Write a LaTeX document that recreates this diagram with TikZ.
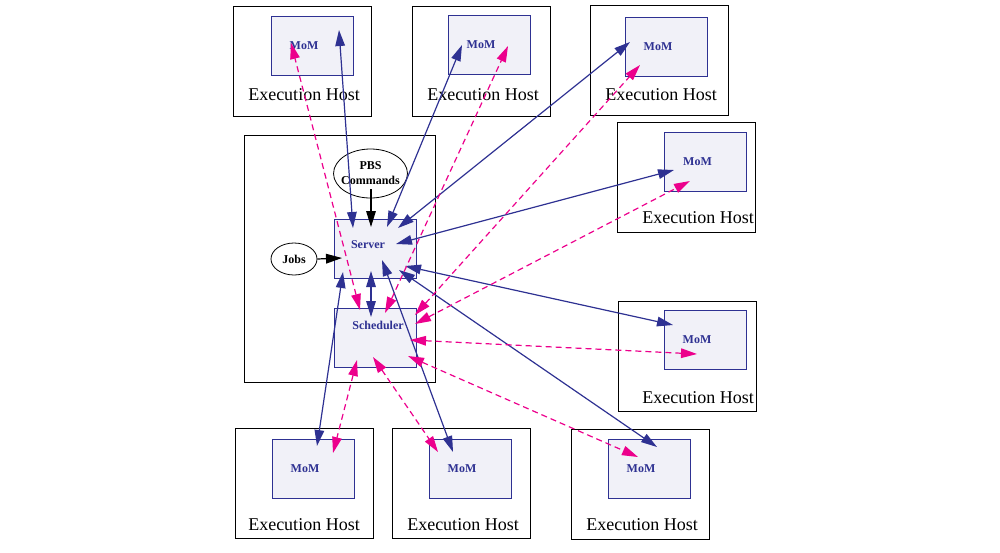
\documentclass[tikz,border=0pt]{standalone}
\usepackage{fontspec}
\setmainfont{Liberation Serif}
\usetikzlibrary{arrows.meta,shapes.geometric,calc}
\definecolor{pbsblue}{HTML}{2E3192}
\definecolor{pbspink}{HTML}{EC008C}
\definecolor{pbsfill}{HTML}{F1F1F8}
\tikzset{
  host/.style={draw=black, line width=0.5pt, minimum width=69pt, minimum height=55pt, inner sep=0pt},
  hosttext/.style={anchor=base, inner sep=0pt, font=\fontsize{9}{10}\selectfont},
  boxtext/.style={inner sep=0pt, text=pbsblue, font=\bfseries\fontsize{6}{7}\selectfont},
  daemon/.style={draw=pbsblue, fill=pbsfill, line width=0.5pt, minimum width=41pt, minimum height=29.5pt, inner sep=0pt},
  mom/.style={daemon, label={[boxtext,xshift=-4pt]center:MoM}},
  cmd/.style={ellipse, draw=black, line width=0.4pt, inner sep=0pt, align=center, font=\bfseries\fontsize{6}{7.5}\selectfont},
  bluelink/.style={draw=pbsblue, line width=0.6pt, <->},
  pinklink/.style={draw=pbspink, line width=0.6pt, dash pattern=on 3pt off 2pt, <->},
  blacklink/.style={draw=black, line width=0.6pt, ->}
}
\begin{document}
\begin{tikzpicture}[x=0.5pt,y=-0.5pt,>={Triangle[length=8pt,width=4.8pt]}]
  \useasboundingbox (0,0) rectangle (1000,552);
  % execution hosts
  \node[host] (host1) at (302.5,61) {};
  \node[host] (host2) at (481,61) {};
  \node[host] (host3) at (659,60.5) {};
  \node[host] (host4) at (686,177) {};
  \node[host] (host5) at (687.5,356) {};
  \node[host] (host6) at (304,483.5) {};
  \node[host] (host7) at (461.5,483.5) {};
  \node[host] (host8) at (640.5,484) {};
  \node[hosttext] (lab1) at (304,100) {Execution Host};
  \node[hosttext] (lab2) at (483,100) {Execution Host};
  \node[hosttext] (lab3) at (661,100) {Execution Host};
  \node[hosttext] (lab4) at (698,223) {Execution Host};
  \node[hosttext] (lab5) at (698,403) {Execution Host};
  \node[hosttext] (lab6) at (304,530) {Execution Host};
  \node[hosttext] (lab7) at (463,530) {Execution Host};
  \node[hosttext] (lab8) at (642,530) {Execution Host};
  \node[mom] (mom1) at (312,45.5) {};
  \node[mom] (mom2) at (489,45) {};
  \node[mom] (mom3) at (666,47) {};
  \node[mom] (mom4) at (705.5,161.5) {};
  \node[mom] (mom5) at (705,340) {};
  \node[mom] (mom6) at (313,468.5) {};
  \node[mom] (mom7) at (470,468.5) {};
  \node[mom] (mom8) at (649,469) {};
  % server host
  \node[draw=black, line width=0.5pt, minimum width=95.5pt, minimum height=123.5pt] (site) at (339.5,258.5) {};
  \node[cmd, inner xsep=-1.6pt, minimum height=24.5pt] (pbs) at (370.5,173.5) {PBS\\Commands};
  \node[cmd, minimum width=23pt, minimum height=16pt] (jobs) at (294,259) {Jobs};
  \node[daemon, label={[boxtext,xshift=-3.5pt,yshift=1.75pt]center:Server}] (srv) at (375,248.5) {};
  \node[daemon, label={[boxtext,xshift=1.5pt,yshift=6.5pt]center:Scheduler}] (sched) at (375,338) {};
  % server -- mom
  \draw[bluelink] ($(srv)+(-22,-20.5)$) -- ($(mom1)+(27,-15.5)$);
  \draw[bluelink] ($(srv)+(12,-21.5)$) -- ($(mom2)+(-27,0)$);
  \draw[bluelink] ($(srv)+(23,-20.5)$) -- ($(mom3)+(-36,-5)$);
  \draw[bluelink] ($(srv)+(21,-4.5)$) -- ($(mom4)+(-31.5,8.5)$);
  \draw[bluelink] ($(srv)+(30,17.5)$) -- ($(mom5)+(-32,-15)$);
  \draw[bluelink] ($(srv)+(24,21.5)$) -- ($(mom8)+(8,-22)$);
  \draw[bluelink] ($(srv)+(7,11.5)$) -- ($(mom7)+(-17,-16.5)$);
  \draw[bluelink] ($(srv)+(-32,23.5)$) -- ($(mom6)+(4,-22.5)$);
  \draw[bluelink] ($(srv)+(-4,22.5)$) -- ($(sched)+(-4,-21)$);
  % scheduler -- mom
  \draw[pinklink] ($(sched)+(-15,-28)$) -- ($(mom1)+(-21,-2.5)$);
  \draw[pinklink] ($(sched)+(10,-25)$) -- ($(mom2)+(19,1)$);
  \draw[pinklink] ($(sched)+(40,-23)$) -- ($(mom3)+(-26,18)$);
  \draw[pinklink] ($(sched)+(40,-14)$) -- ($(mom4)+(-15.5,19.5)$);
  \draw[pinklink] ($(sched)+(35,2)$) -- ($(mom5)+(-8,14)$);
  \draw[pinklink] ($(sched)+(33,18)$) -- ($(mom8)+(-11,-12)$);
  \draw[pinklink] ($(sched)+(-2,19)$) -- ($(mom7)+(-32,-16.5)$);
  \draw[pinklink] ($(sched)+(-18,22)$) -- ($(mom6)+(20,-15.5)$);
  % commands and jobs
  \draw[blacklink] ($(pbs)+(0.5,15.5)$) -- ($(srv)+(-4,-21.5)$);
  \draw[blacklink] (jobs.east) -- ($(srv)+(-33,9.5)$);
\end{tikzpicture}
\end{document}
